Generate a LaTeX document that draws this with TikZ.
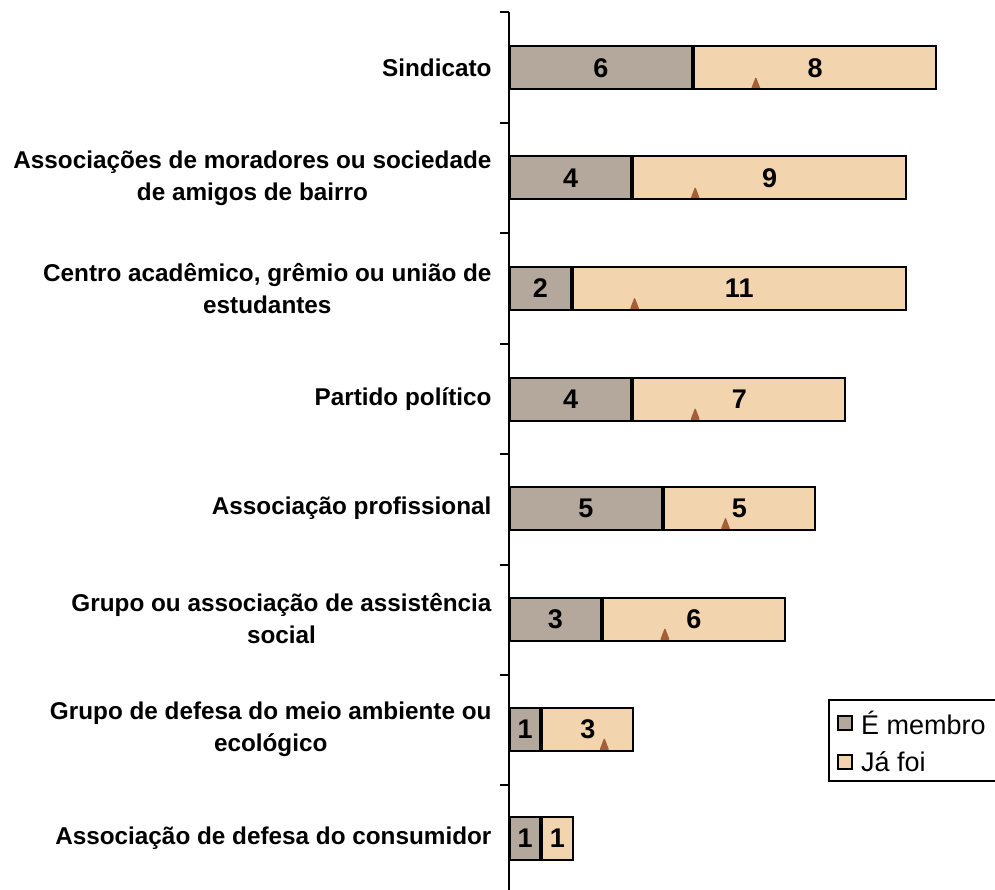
\documentclass[tikz,border=0pt]{standalone}
\usepackage{fontspec}
\setmainfont{Liberation Sans}
\usetikzlibrary{positioning}
\definecolor{membrocol}{RGB}{180,168,156}
\definecolor{jafoicol}{RGB}{242,213,175}
\definecolor{manchacol}{RGB}{165,95,55}
\newcommand{\un}{30.3pt}
\begin{document}
\begin{tikzpicture}[x=1pt,y=-1pt,
    lbl/.style={anchor=east,align=center,font=\fontsize{24.3}{32}\selectfont\bfseries},
    barra/.style={draw,line width=2pt,minimum height=43pt,inner sep=0pt,anchor=west,
      font=\fontsize{27}{30}\selectfont\bfseries},
    membro/.style={barra,fill=membrocol},
    jafoi/.style={barra,fill=jafoicol,
      path picture={\fill[manchacol,rounded corners=2pt]
        ([xshift=57pt]path picture bounding box.south west) -- ++(5,-13) -- ++(5,13) -- cycle;}},
    quad/.style={draw,line width=2pt,minimum size=14pt,inner sep=0pt},
    leg/.style={inner sep=0pt,font=\fontsize{27}{30}\selectfont}]

      \useasboundingbox (0,0) rectangle (995,890);

      % eixo
      \coordinate (topo) at (509,12);
      \coordinate (base) at (509,892);
      \draw[line width=2pt] (topo) -- (base);
      \foreach \y in {12.5,122.9,233.3,343.7,454.1,564.5,674.9,785.3}
        \draw[line width=2pt] (500,\y) -- (509,\y);

      % barras
      \node[membro,minimum width=6*\un] (m1) at (509,68) {6};
      \node[jafoi,minimum width=8*\un] (j1) at (m1.east) {8};
      \node[membro,minimum width=4*\un] (m2) at (509,178) {4};
      \node[jafoi,minimum width=9*\un] (j2) at (m2.east) {9};
      \node[membro,minimum width=2*\un] (m3) at (509,288.5) {2};
      \node[jafoi,minimum width=11*\un] (j3) at (m3.east) {11};
      \node[membro,minimum width=4*\un] (m4) at (509,399) {4};
      \node[jafoi,minimum width=7*\un] (j4) at (m4.east) {7};
      \node[membro,minimum width=5*\un] (m5) at (509,508.5) {5};
      \node[jafoi,minimum width=5*\un] (j5) at (m5.east) {5};
      \node[membro,minimum width=3*\un] (m6) at (509,619) {3};
      \node[jafoi,minimum width=6*\un] (j6) at (m6.east) {6};
      \node[membro,minimum width=1*\un] (m7) at (509,729) {1};
      \node[jafoi,minimum width=3*\un] (j7) at (m7.east) {3};
      \node[membro,minimum width=1*\un] (m8) at (509,838) {1};
      \node[jafoi,minimum width=1*\un] (j8) at (m8.east) {1};

      % categorias
      \node[lbl] (l1) at (495,68) {Sindicato};
      \node[lbl] (l2) at (495,178) {Associações de moradores ou sociedade\\de amigos de bairro};
      \node[lbl] (l3) at (495,288.5) {Centro acadêmico, grêmio ou união de\\estudantes};
      \node[lbl] (l4) at (495,399) {Partido político};
      \node[lbl] (l5) at (495,508.5) {Associação profissional};
      \node[lbl] (l6) at (495,619) {Grupo ou associação de assistência\\social};
      \node[lbl] (l7) at (495,729) {Grupo de defesa do meio ambiente ou\\ecológico};
      \node[lbl] (l8) at (495,838) {Associação de defesa do consumidor};

      % legenda
      \draw[line width=2pt] (1000,700) -- (829,700) -- (829,781) -- (1000,781);
      \node[quad,fill=membrocol] (q1) at (845,723) {};
      \node[leg,right=8pt of q1] (t1) {É membro};
      \node[quad,fill=jafoicol] (q2) at (845,762) {};
      \node[leg,right=8pt of q2] (t2) {Já foi};

    \end{tikzpicture}
\end{document}
